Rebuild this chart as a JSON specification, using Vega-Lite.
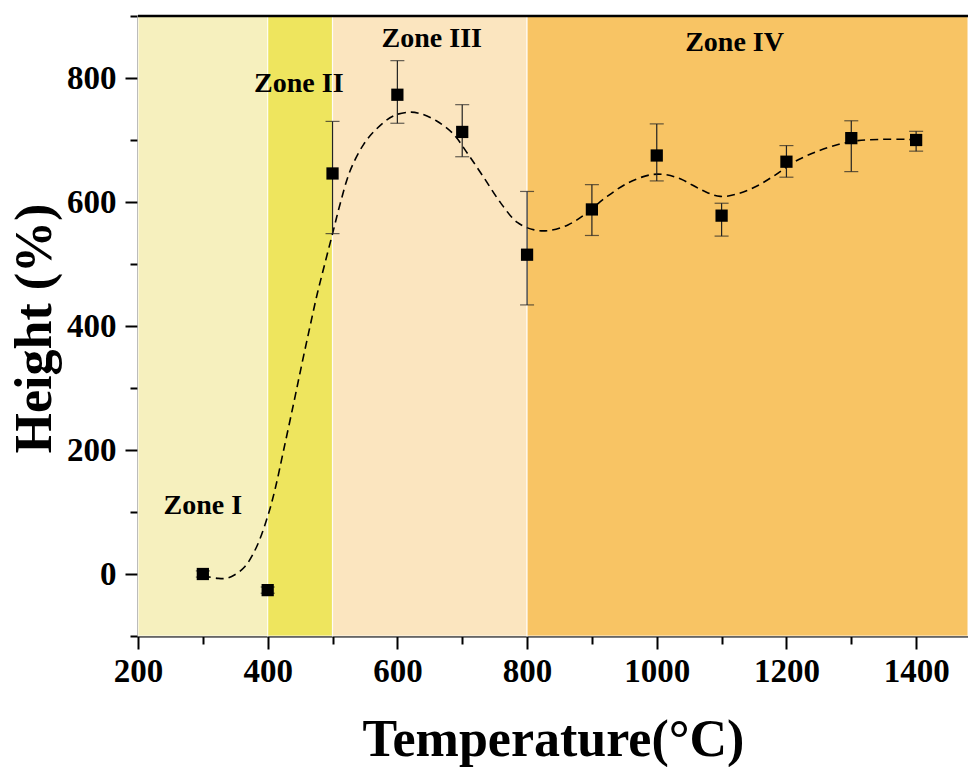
{
  "$schema": "https://vega.github.io/schema/vega-lite/v6.json",
  "width": 830,
  "height": 620,
  "autosize": "none",
  "padding": {"left": 138, "top": 16, "right": 0, "bottom": 131},
  "background": "white",
  "config": {
    "view": {"stroke": null},
    "axis": {
      "labelFont": "Liberation Serif",
      "labelFontWeight": "bold",
      "labelFontSize": 33,
      "labelColor": "black",
      "titleFont": "Liberation Serif",
      "titleFontWeight": "bold",
      "titleColor": "black",
      "domainColor": "black",
      "domainWidth": 2,
      "tickColor": "black",
      "tickWidth": 2,
      "grid": false
    }
  },
  "datasets": {
    "zones": [
      {"start": 200, "end": 400, "zone": "I"},
      {"start": 400, "end": 500, "zone": "II"},
      {"start": 500, "end": 800, "zone": "III"},
      {"start": 800, "end": 1480, "zone": "IV"}
    ],
    "points": [
      {"t": 300, "h": 0, "lo": -5, "hi": 5},
      {"t": 400, "h": -26, "lo": -31, "hi": -21},
      {"t": 500, "h": 646, "lo": 549, "hi": 730},
      {"t": 600, "h": 773, "lo": 727, "hi": 828},
      {"t": 700, "h": 713, "lo": 673, "hi": 757},
      {"t": 800, "h": 515, "lo": 434, "hi": 617},
      {"t": 900, "h": 588, "lo": 546, "hi": 628},
      {"t": 1000, "h": 675, "lo": 634, "hi": 726},
      {"t": 1100, "h": 578, "lo": 545, "hi": 598},
      {"t": 1200, "h": 665, "lo": 640, "hi": 691},
      {"t": 1300, "h": 703, "lo": 649, "hi": 731},
      {"t": 1400, "h": 700, "lo": 682, "hi": 714}
    ],
    "curve": [
      {"t": 300, "h": -3},
      {"t": 323, "h": -7},
      {"t": 336, "h": -7},
      {"t": 348, "h": -2},
      {"t": 365, "h": 12},
      {"t": 383, "h": 44},
      {"t": 400, "h": 93},
      {"t": 411, "h": 135},
      {"t": 424, "h": 197},
      {"t": 440, "h": 275},
      {"t": 453, "h": 340},
      {"t": 465, "h": 398},
      {"t": 476, "h": 450},
      {"t": 488, "h": 500},
      {"t": 501, "h": 553},
      {"t": 512, "h": 598},
      {"t": 527, "h": 650},
      {"t": 548, "h": 693},
      {"t": 568, "h": 718},
      {"t": 594, "h": 739},
      {"t": 620, "h": 745},
      {"t": 637, "h": 742},
      {"t": 660, "h": 731},
      {"t": 686, "h": 710},
      {"t": 709, "h": 677},
      {"t": 733, "h": 640},
      {"t": 759, "h": 599},
      {"t": 785, "h": 567},
      {"t": 811, "h": 555},
      {"t": 834, "h": 554},
      {"t": 863, "h": 563},
      {"t": 889, "h": 580},
      {"t": 921, "h": 607},
      {"t": 956, "h": 631},
      {"t": 991, "h": 644},
      {"t": 1014, "h": 644},
      {"t": 1037, "h": 637},
      {"t": 1072, "h": 618},
      {"t": 1098, "h": 609},
      {"t": 1124, "h": 613},
      {"t": 1153, "h": 625},
      {"t": 1182, "h": 643},
      {"t": 1211, "h": 664},
      {"t": 1246, "h": 681},
      {"t": 1281, "h": 693},
      {"t": 1310, "h": 699},
      {"t": 1345, "h": 701},
      {"t": 1386, "h": 701},
      {"t": 1400, "h": 700}
    ],
    "labels": [
      {"t": 300, "h": 110, "label": "Zone I"},
      {"t": 448, "h": 790, "label": "Zone II"},
      {"t": 653, "h": 863, "label": "Zone III"},
      {"t": 1120, "h": 857, "label": "Zone IV"}
    ]
  },
  "layer": [
    {
      "data": {"name": "zones"},
      "mark": {"type": "rect", "stroke": "white", "strokeWidth": 1.2, "strokeOpacity": 0.8},
      "encoding": {
        "x": {
          "field": "start", "type": "quantitative",
          "title": "Temperature(°C)",
          "scale": {"domain": [200, 1480], "nice": false, "zero": false},
          "axis": {
            "title": "Temperature(°C)",
            "titleFontSize": 52,
            "titlePadding": 26,
            "values": [200, 300, 400, 500, 600, 700, 800, 900, 1000, 1100, 1200, 1300, 1400],
            "labelExpr": "datum.value % 200 === 0 ? datum.label : ''",
            "format": "d",
            "tickSize": {"condition": {"test": "datum.value % 200 === 0", "value": 13}, "value": 8},
            "labelPadding": 6,
            "labelFlush": false
          }
        },
        "x2": {"field": "end"},
        "color": {
          "field": "zone", "type": "nominal",
          "scale": {"domain": ["I", "II", "III", "IV"], "range": ["#F6F0BE", "#EEE55E", "#FBE5BF", "#F8C464"]},
          "legend": null
        }
      }
    },
    {
      "data": {"name": "curve"},
      "mark": {"type": "line", "color": "black", "strokeWidth": 1.6, "strokeDash": [8, 5], "interpolate": "catmull-rom"},
      "encoding": {
        "x": {"field": "t", "type": "quantitative", "title": "Temperature(°C)"},
        "y": {
          "field": "h", "type": "quantitative",
          "title": "Height (%)",
          "scale": {"domain": [-100, 900], "nice": false, "zero": false},
          "axis": {
            "title": "Height (%)",
            "titleFontSize": 52,
            "titleAngle": -90,
            "titleX": -104,
            "titleY": 312,
            "titleAlign": "center",
            "titleBaseline": "middle",
            "values": [-100, 0, 100, 200, 300, 400, 500, 600, 700, 800, 900],
            "labelExpr": "datum.value % 200 === 0 ? datum.label : ''",
            "format": "d",
            "tickSize": {"condition": {"test": "datum.value % 200 === 0", "value": 13}, "value": 8},
            "labelPadding": 9
          }
        }
      }
    },
    {
      "data": {"name": "points"},
      "mark": {"type": "errorbar", "color": "#222222", "thickness": 1.2, "ticks": {"size": 14, "thickness": 1.2, "color": "#222222"}},
      "encoding": {
        "x": {"field": "t", "type": "quantitative", "title": "Temperature(°C)"},
        "y": {"field": "lo", "type": "quantitative", "title": "Height (%)"},
        "y2": {"field": "hi"}
      }
    },
    {
      "data": {"name": "points"},
      "mark": {"type": "point", "shape": "square", "filled": true, "color": "black", "size": 150, "opacity": 1},
      "encoding": {
        "x": {"field": "t", "type": "quantitative", "title": "Temperature(°C)"},
        "y": {"field": "h", "type": "quantitative", "title": "Height (%)"}
      }
    },
    {
      "data": {"name": "labels"},
      "mark": {"type": "text", "font": "Liberation Serif", "fontWeight": "bold", "fontSize": 28, "color": "black", "align": "center", "baseline": "middle"},
      "encoding": {
        "x": {"field": "t", "type": "quantitative", "title": "Temperature(°C)"},
        "y": {"field": "h", "type": "quantitative", "title": "Height (%)"},
        "text": {"field": "label"}
      }
    },
    {
      "data": {"values": [{"top": 900}]},
      "mark": {"type": "rule", "color": "black", "strokeWidth": 2.5},
      "encoding": {"y": {"field": "top", "type": "quantitative", "title": "Height (%)"}}
    }
  ]
}
